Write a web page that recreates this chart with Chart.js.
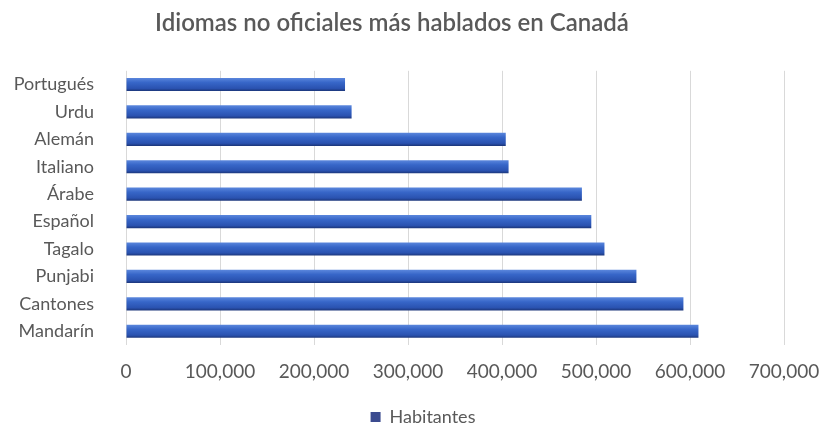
<!DOCTYPE html>
<html>
<head>
<meta charset="utf-8">
<script src="https://cdn.jsdelivr.net/npm/chart.js@4"></script>
<style>
  html, body { margin: 0; padding: 0; background: #fff; }
  #grafica { display: block; }
</style>
</head>
<body>
<canvas id="grafica" width="823" height="428"></canvas>
<script>
// idiomas, de arriba hacia abajo
const idiomas = ['Portugués', 'Urdu', 'Alemán', 'Italiano', 'Árabe', 'Español', 'Tagalo', 'Punjabi', 'Cantones', 'Mandarín'];
const habitantes = [233000, 240000, 404000, 407000, 485000, 495000, 509000, 543000, 593000, 609000];
const ticksX = [0, 100000, 200000, 300000, 400000, 500000, 600000, 700000];

const gris = '#595959';
const fuente = 'Lato';

// degradado por barra para el efecto 3D
function colorBarra(ctx) {
  const chart = ctx.chart;
  if (!chart.chartArea || !chart.scales.y) return '#3360c2';
  const y = chart.scales.y.getPixelForValue(ctx.dataIndex);
  const g = chart.ctx.createLinearGradient(0, y - 6.5, 0, y + 6.5);
  g.addColorStop(0, '#5a86dc');
  g.addColorStop(0.35, '#3766c8');
  g.addColorStop(0.8, '#2a52b0');
  g.addColorStop(1, '#1c367a');
  return g;
}

// la leyenda va un poco a la derecha del centro
const moverLeyenda = {
  id: 'moverLeyenda',
  afterLayout(chart) {
    chart.legend.left += 31;
    chart.legend.right += 31;
  }
};

const grafica = document.querySelector('#grafica').getContext('2d');

new Chart(grafica, {
  type: 'bar',
  data: {
    labels: idiomas,
    datasets: [{
      label: 'Habitantes',
      data: habitantes,
      backgroundColor: colorBarra,
      borderWidth: 0,
      categoryPercentage: 1,
      barPercentage: 0.48
    }]
  },
  options: {
    indexAxis: 'y',
    responsive: false,
    animation: false,
    layout: {
      padding: { top: 0, right: 39, bottom: -8, left: 0 }
    },
    plugins: {
      title: {
        display: true,
        text: 'Idiomas no oficiales más hablados en Canadá',
        color: gris,
        font: { size: 24, family: fuente, weight: '600' },
        padding: { top: 9, bottom: 33 }
      },
      legend: {
        position: 'bottom',
        labels: {
          color: gris,
          font: { size: 18, family: fuente },
          boxWidth: 10,
          boxHeight: 10,
          padding: 3,
          generateLabels: () => [{
            text: 'Habitantes',
            fillStyle: '#3b4b8f',
            strokeStyle: '#3b4b8f',
            lineWidth: 0,
            fontColor: gris
          }]
        }
      },
      tooltip: { enabled: false }
    },
    scales: {
      x: {
        min: 0,
        max: 700000,
        afterBuildTicks: (s) => { s.ticks = ticksX.map(v => ({ value: v })); },
        ticks: {
          color: gris,
          font: { size: 19, family: fuente },
          padding: 15,
          maxRotation: 0,
          callback: (v) => v.toLocaleString('en-US')
        },
        grid: { color: '#d9d9d9', drawTicks: false },
        border: { display: false },
        afterFit: (s) => {
          s.height = 60;
          s.paddingLeft = 0;
          s.paddingRight = 0;
        }
      },
      y: {
        ticks: {
          color: gris,
          font: { size: 18, family: fuente },
          padding: 24,
          autoSkip: false
        },
        grid: { display: false },
        border: { display: false },
        afterFit: (s) => { s.width = 126; }
      }
    }
  },
  plugins: [moverLeyenda]
});
</script>
</body>
</html>
